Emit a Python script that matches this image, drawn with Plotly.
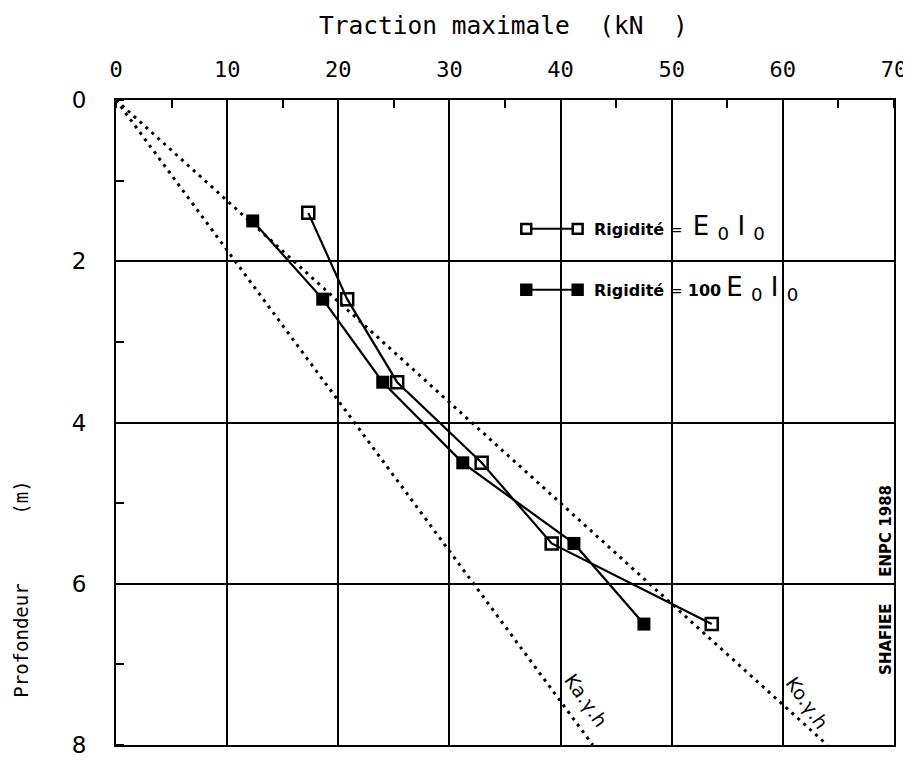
import plotly.graph_objects as go

# Data
depth_e0i0 = [1.4, 2.47, 3.5, 4.5, 5.5, 6.5]
trac_e0i0 = [17.3, 20.8, 25.3, 32.9, 39.2, 53.6]

depth_100 = [1.5, 2.47, 3.5, 4.5, 5.5, 6.5]
trac_100 = [12.3, 18.6, 24.0, 31.2, 41.2, 47.5]

# Reference straight lines (earth pressure), from origin
ka_trac = [0, 42.9]
ka_depth = [0, 8]
ko_trac = [0, 64.0]
ko_depth = [0, 8]

x_ticks = [0, 10, 20, 30, 40, 50, 60, 70]
y_ticks = [0, 2, 4, 6, 8]

MONO = "DejaVu Sans Mono, Liberation Mono, monospace"
SANS = "DejaVu Sans, Liberation Sans, sans-serif"

# plot area in pixels
L, R, T, B = 108, 895, 92, 748
W, H = R - L, B - T


def px(x):
    return (x - L) / W


def py(y):
    return 1 - (y - T) / H


fig = go.Figure()

fig.add_trace(go.Scatter(x=ka_trac, y=ka_depth, mode="lines",
                         line=dict(color="black", width=3, dash="3px,5px"),
                         showlegend=False, hoverinfo="skip"))
fig.add_trace(go.Scatter(x=ko_trac, y=ko_depth, mode="lines",
                         line=dict(color="black", width=3, dash="3px,5px"),
                         showlegend=False, hoverinfo="skip"))

fig.add_trace(go.Scatter(x=trac_e0i0, y=depth_e0i0, mode="lines+markers",
                         name="Rigidité = E0 I0", showlegend=False,
                         line=dict(color="black", width=2.2),
                         marker=dict(symbol="square-open", size=12, color="black",
                                     line=dict(width=2.5, color="black"))))
fig.add_trace(go.Scatter(x=trac_100, y=depth_100, mode="lines+markers",
                         name="Rigidité = 100 E0 I0", showlegend=False,
                         line=dict(color="black", width=2.2),
                         marker=dict(symbol="square", size=13, color="black")))

axis_common = dict(showline=True, linecolor="black", linewidth=2, mirror=True,
                   showgrid=True, gridcolor="black", gridwidth=1.5,
                   zeroline=False, ticks="", fixedrange=True)

fig.update_xaxes(side="top", range=[0, 70], tickvals=x_ticks,
                 ticktext=[str(v) for v in x_ticks],
                 tickfont=dict(family=MONO, size=22, color="black"),
                 ticklabelstandoff=12,
                 minor=dict(dtick=5, ticks="inside", ticklen=8, tickwidth=2,
                            tickcolor="black", showgrid=False),
                 **axis_common)
fig.update_yaxes(range=[8, 0], tickvals=y_ticks,
                 ticktext=[str(v) for v in y_ticks],
                 tickfont=dict(family=SANS, size=23, color="black"),
                 ticklabelstandoff=23,
                 minor=dict(dtick=1, ticks="inside", ticklen=8, tickwidth=2,
                            tickcolor="black", showgrid=False),
                 **axis_common)

shapes = []
# manual legend samples
leg_rows = [(223, "open"), (285, "filled")]
for yy, kind in leg_rows:
    shapes.append(dict(type="line", xref="paper", yref="paper",
                       x0=px(523), x1=px(575), y0=py(yy), y1=py(yy),
                       line=dict(color="black", width=2)))
    for xx in (523, 575):
        shapes.append(dict(type="rect", xref="paper", yref="paper",
                           x0=px(xx - 5), x1=px(xx + 5), y0=py(yy - 5), y1=py(yy + 5),
                           line=dict(color="black", width=2.5),
                           fillcolor="white" if kind == "open" else "black"))

NB = "\u00a0"
EI = ('<span style="font-size:26px">E' + NB + '<sub>0</sub>' + NB + 'I' + NB
      + '<sub>0</sub></span>')
annotations = [
    dict(text="Traction" + NB + "maximale" + NB * 2 + "(kN" + NB * 2 + ")",
         xref="paper", yref="paper",
         x=px(500), y=py(16), xanchor="center", yanchor="middle", showarrow=False,
         font=dict(family=MONO, size=24.5, color="black")),
    dict(text="Profondeur" + NB * 6 + "(m)", xref="paper", yref="paper",
         x=px(12), y=py(590), xanchor="center", yanchor="middle",
         showarrow=False, textangle=-90,
         font=dict(family=MONO, size=19, color="black")),
    dict(text="<b>Rigidité</b>" + NB + "=" + NB * 2 + EI, xref="paper", yref="paper",
         x=px(590), y=py(222), xanchor="left", yanchor="middle", showarrow=False,
         font=dict(family=SANS, size=16, color="black")),
    dict(text="<b>Rigidité</b>" + NB + "=" + NB + "<b>100</b>" + NB + EI,
         xref="paper", yref="paper",
         x=px(590), y=py(284), xanchor="left", yanchor="middle", showarrow=False,
         font=dict(family=SANS, size=16, color="black")),
    dict(text="Ka.γ.h", x=42.3, y=7.44, showarrow=False, textangle=55,
         font=dict(family=SANS, size=19, color="black")),
    dict(text="Ko.γ.h", x=62.2, y=7.48, showarrow=False, textangle=55,
         font=dict(family=SANS, size=19, color="black")),
    dict(text="<b>ENPC 1988</b>", xref="paper", yref="paper",
         x=px(887), y=py(530), showarrow=False, textangle=-90,
         xanchor="center", yanchor="middle",
         font=dict(family=SANS, size=15, color="black")),
    dict(text="<b>SHAFIEE</b>", xref="paper", yref="paper",
         x=px(887), y=py(641), showarrow=False, textangle=-90,
         xanchor="center", yanchor="middle",
         font=dict(family=SANS, size=15, color="black")),
]

fig.update_layout(
    width=911, height=762,
    margin=dict(l=L, r=911 - R, t=T, b=762 - B),
    paper_bgcolor="white", plot_bgcolor="white",
    annotations=annotations, shapes=shapes,
    showlegend=False,
)

fig.write_html("out.html")
